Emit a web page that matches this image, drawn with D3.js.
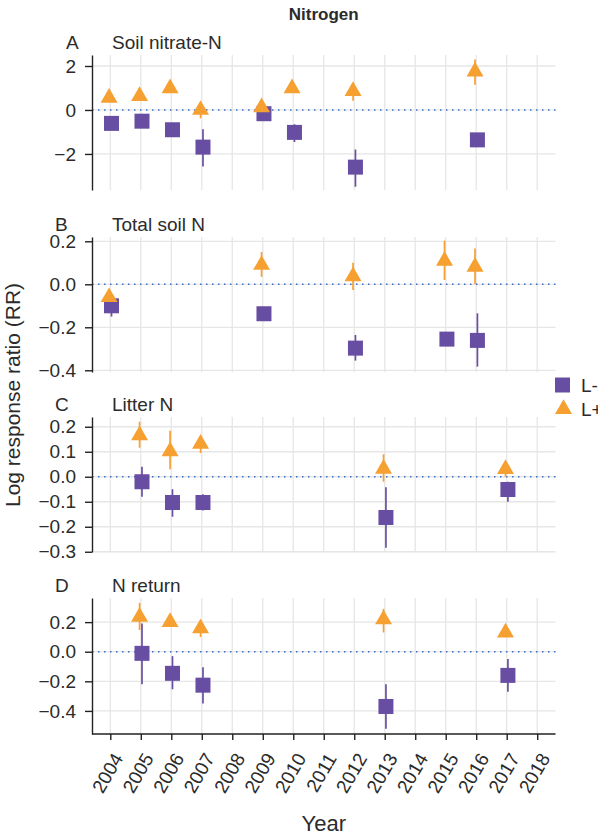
<!DOCTYPE html>
<html>
<head>
<meta charset="utf-8">
<script src="https://cdn.jsdelivr.net/npm/d3@7"></script>
<style>
  body { margin: 0; background: #fff; }
  text { font-family: "Liberation Sans", Arial, sans-serif; fill: #2b2b2b; }
</style>
</head>
<body>
<div id="chart"></div>
<script>
// x categories
const years = ["2004","2005","2006","2007","2008","2009","2010","2011","2012","2013","2014","2015","2016","2017","2018"];

// A - soil nitrate-N
const aYears = ["2004","2005","2006","2007","2009","2010","2012","2016"];
const aPlus = [0.55, 0.63, 0.98, 0.0, 0.12, 0.98, 0.86, 1.75];
const aPlusLo = [0.5, 0.55, 0.9, -0.38, 0.05, 0.9, 0.42, 1.15];
const aPlusHi = [0.6, 0.7, 1.05, 0.2, 0.2, 1.05, 1.2, 2.3];
const aMinus = [-0.61, -0.51, -0.90, -1.69, -0.17, -1.02, -2.60, -1.36];
const aMinusLo = [-0.7, -0.6, -1.0, -2.57, -0.25, -1.46, -3.49, -1.45];
const aMinusHi = [-0.5, -0.4, -0.8, -0.88, -0.1, -0.65, -1.80, -1.25];
const aTicks = [-2, 0, 2];

// B - total soil N
const bYears = ["2004","2009","2012","2015","2016"];
const bPlus = [-0.06, 0.09, 0.037, 0.109, 0.081];
const bPlusLo = [-0.07, 0.035, -0.027, 0.02, 0.0];
const bPlusHi = [-0.03, 0.15, 0.10, 0.203, 0.167];
const bMinus = [-0.10, -0.137, -0.297, -0.255, -0.261];
const bMinusLo = [-0.15, -0.15, -0.355, -0.27, -0.383];
const bMinusHi = [-0.08, -0.12, -0.236, -0.24, -0.135];
const bTicks = [-0.4, -0.2, 0, 0.2];

// C - litter N
const cYears = ["2005","2006","2007","2013","2017"];
const cPlus = [0.166, 0.102, 0.132, 0.032, 0.031];
const cPlusLo = [0.116, 0.03, 0.095, -0.02, 0.0];
const cPlusHi = [0.22, 0.184, 0.14, 0.09, 0.05];
const cMinus = [-0.02, -0.103, -0.103, -0.163, -0.051];
const cMinusLo = [-0.08, -0.16, -0.135, -0.284, -0.10];
const cMinusHi = [0.04, -0.05, -0.07, -0.042, -0.02];
const cTicks = [-0.3, -0.2, -0.1, 0, 0.1, 0.2];

// D - N return
const dYears = ["2005","2006","2007","2013","2017"];
const dPlus = [0.236, 0.20, 0.158, 0.218, 0.13];
const dPlusLo = [0.147, 0.19, 0.10, 0.13, 0.12];
const dPlusHi = [0.33, 0.22, 0.2, 0.29, 0.14];
const dMinus = [-0.011, -0.146, -0.226, -0.37, -0.16];
const dMinusLo = [-0.22, -0.254, -0.35, -0.52, -0.27];
const dMinusHi = [0.19, -0.03, -0.105, -0.22, -0.05];
const dTicks = [-0.4, -0.2, 0, 0.2];

const seriesNames = ["L-", "L+"];

function rows(ys, mean, lo, hi) {
    return ys.map((y, i) => ({ year: y, mean: mean[i], lo: lo[i], hi: hi[i] }));
}

const panels = [
    { tag: "A", title: "Soil nitrate-N", top: 55, bottom: 190, domain: [-3.64, 2.5], ticks: aTicks, fmt: d3.format("d"), tagX: 66,
      minus: rows(aYears, aMinus, aMinusLo, aMinusHi), plus: rows(aYears, aPlus, aPlusLo, aPlusHi) },
    { tag: "B", title: "Total soil N", top: 237, bottom: 372, domain: [-0.408, 0.22], ticks: bTicks, fmt: d3.format(".1f"), tagX: 55,
      minus: rows(bYears, bMinus, bMinusLo, bMinusHi), plus: rows(bYears, bPlus, bPlusLo, bPlusHi) },
    { tag: "C", title: "Litter N", top: 417, bottom: 552, domain: [-0.301, 0.239], ticks: cTicks, fmt: d3.format(".1f"), tagX: 55,
      minus: rows(cYears, cMinus, cMinusLo, cMinusHi), plus: rows(cYears, cPlus, cPlusLo, cPlusHi) },
    { tag: "D", title: "N return", top: 598, bottom: 734, domain: [-0.556, 0.363], ticks: dTicks, fmt: d3.format(".1f"), tagX: 55,
      minus: rows(dYears, dMinus, dMinusLo, dMinusHi), plus: rows(dYears, dPlus, dPlusLo, dPlusHi) }
];

const width = 598, height = 835;
const left = 92, right = 555.5;
const purple = "#684ea2", orange = "#f6a031", grid = "#e6e6e6";

const svg = d3.select("#chart").append("svg")
    .attr("width", width)
    .attr("height", height);

const x = d3.scalePoint()
    .domain(years)
    .range([left, right])
    .padding(0.6);

const dodge = 1.2;
const tri = d3.symbol().type(d3.symbolTriangle).size(125);

svg.append("text")
    .attr("x", (left + right) / 2)
    .attr("y", 20)
    .attr("text-anchor", "middle")
    .style("font-weight", "bold")
    .style("font-size", "17px")
    .text("Nitrogen");

panels.forEach(function (p) {
    const y = d3.scaleLinear().domain(p.domain).range([p.bottom, p.top]);
    const g = svg.append("g");

    // grid
    g.append("g").selectAll("line")
        .data(years)
        .join("line")
        .attr("x1", d => x(d)).attr("x2", d => x(d))
        .attr("y1", p.top).attr("y2", p.bottom)
        .style("stroke", grid).style("stroke-width", 1.3);
    g.append("g").selectAll("line")
        .data(p.ticks)
        .join("line")
        .attr("x1", left).attr("x2", right)
        .attr("y1", d => y(d)).attr("y2", d => y(d))
        .style("stroke", grid).style("stroke-width", 1.3);

    // zero reference
    g.append("line")
        .attr("x1", left).attr("x2", right)
        .attr("y1", y(0)).attr("y2", y(0))
        .style("stroke", "#3b6fc4")
        .style("stroke-width", 1.4)
        .style("stroke-dasharray", "1.5,4.5");

    // y axis
    const ax = g.append("g")
        .attr("transform", `translate(${left},0)`)
        .call(d3.axisLeft(y).tickValues(p.ticks).tickFormat(p.fmt).tickSize(7).tickSizeOuter(0).tickPadding(9));
    ax.select(".domain").style("stroke", "#222").style("stroke-width", 1.4);
    ax.selectAll(".tick line").style("stroke", "#222").style("stroke-width", 1.4);
    ax.selectAll(".tick text").style("font-size", "19px").style("fill", "#2b2b2b")
        .style("font-family", "'Liberation Sans', Arial, sans-serif");

    // tag + subtitle
    g.append("text").attr("x", p.tagX).attr("y", p.top - 6).style("font-size", "19px").text(p.tag);
    g.append("text").attr("x", 112).attr("y", p.top - 6).style("font-size", "19px").text(p.title);

    // error bars
    g.append("g").selectAll("line")
        .data(p.minus)
        .join("line")
        .attr("x1", d => x(d.year) + dodge).attr("x2", d => x(d.year) + dodge)
        .attr("y1", d => y(d.lo)).attr("y2", d => y(d.hi))
        .style("stroke", purple).style("stroke-width", 1.7);
    g.append("g").selectAll("line")
        .data(p.plus)
        .join("line")
        .attr("x1", d => x(d.year) - dodge).attr("x2", d => x(d.year) - dodge)
        .attr("y1", d => y(d.lo)).attr("y2", d => y(d.hi))
        .style("stroke", orange).style("stroke-width", 1.7);

    // points
    g.append("g").selectAll("rect")
        .data(p.minus)
        .join("rect")
        .attr("x", d => x(d.year) + dodge - 7.5)
        .attr("y", d => y(d.mean) - 7.5)
        .attr("width", 15).attr("height", 15)
        .style("fill", purple);
    g.append("g").selectAll("path")
        .data(p.plus)
        .join("path")
        .attr("d", tri)
        .attr("transform", d => `translate(${x(d.year) - dodge},${y(d.mean)})`)
        .style("fill", orange);

    // x axis on the last panel only
    if (p.tag === "D") {
        const xa = g.append("g")
            .attr("transform", `translate(0,${p.bottom})`)
            .call(d3.axisBottom(x).tickSize(6).tickSizeOuter(0));
        xa.select(".domain").style("stroke", "#222").style("stroke-width", 1.4)
            .attr("d", `M${left},0H${right}`);
        xa.selectAll(".tick line").style("stroke", "#222").style("stroke-width", 1.4);
        xa.selectAll(".tick text")
            .style("font-size", "19px").style("fill", "#2b2b2b")
            .style("font-family", "'Liberation Sans', Arial, sans-serif")
            .attr("text-anchor", "end")
            .attr("dy", null)
            .attr("y", 0)
            .attr("transform", "translate(13,24) rotate(-60)");
    }
});

// axis titles
svg.append("text")
    .attr("transform", "translate(20,395) rotate(-90)")
    .attr("text-anchor", "middle")
    .style("font-size", "21px")
    .text("Log response ratio (RR)");

svg.append("text")
    .attr("x", (left + right) / 2)
    .attr("y", 831)
    .attr("text-anchor", "middle")
    .style("font-size", "22px")
    .text("Year");

// legend
const legend = svg.append("g").attr("transform", "translate(555,385)");
legend.append("rect").attr("x", 0).attr("y", -7.5).attr("width", 15).attr("height", 15).style("fill", purple);
legend.append("path").attr("d", tri).attr("transform", "translate(8.5,24)").style("fill", orange);
legend.selectAll("text")
    .data(seriesNames)
    .join("text")
    .attr("x", 26)
    .attr("y", (d, i) => i * 24 + 7)
    .style("font-size", "19px")
    .text(d => d);
</script>
</body>
</html>
